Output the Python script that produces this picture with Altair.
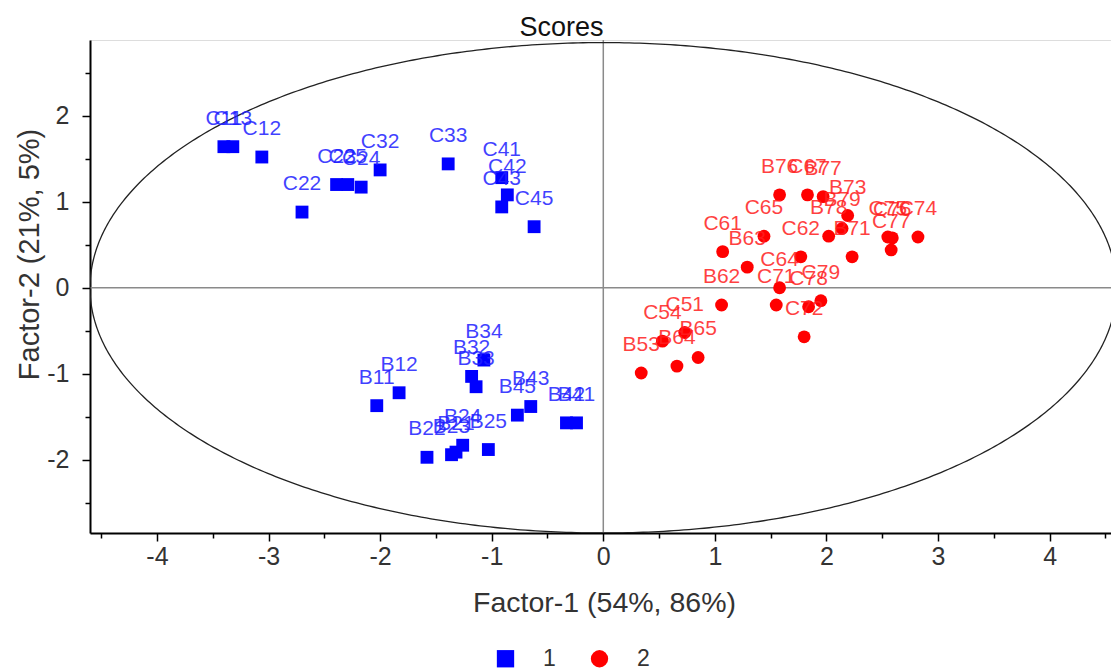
import altair as alt
import pandas as pd

# ---- data ----
labels_1 = ["C11", "C13", "C12", "C22", "C23", "C25", "C24", "C32", "C33", "C41", "C42", "C43", "C45",
            "B34", "B32", "B33", "B12", "B11", "B45", "B43", "B42", "B41", "B22", "B23", "B21", "B24", "B25"]
f1_1 = [-3.40, -3.32, -3.06, -2.70, -2.39, -2.29, -2.17, -2.00, -1.39, -0.91, -0.86, -0.91, -0.62,
        -1.07, -1.18, -1.14, -1.83, -2.03, -0.77, -0.65, -0.33, -0.24, -1.58, -1.36, -1.32, -1.26, -1.03]
f2_1 = [1.64, 1.64, 1.52, 0.88, 1.20, 1.20, 1.17, 1.37, 1.44, 1.28, 1.08, 0.94, 0.71,
        -0.84, -1.03, -1.15, -1.22, -1.37, -1.48, -1.38, -1.57, -1.57, -1.97, -1.94, -1.91, -1.83, -1.88]

labels_2 = ["B76", "C67", "B77", "B73", "B79", "B78", "C65", "C61", "B63", "C62", "B71", "C75", "C76",
            "C74", "C77", "C64", "C71", "C78", "C79", "C72", "B62", "C54", "C51", "B65", "B64", "B53"]
f1_2 = [1.58, 1.83, 1.97, 2.19, 2.14, 2.02, 1.44, 1.07, 1.29, 1.77, 2.23, 2.55, 2.59,
        2.82, 2.58, 1.58, 1.55, 1.84, 1.95, 1.80, 1.06, 0.53, 0.73, 0.85, 0.66, 0.34]
f2_2 = [1.08, 1.08, 1.06, 0.84, 0.69, 0.60, 0.60, 0.42, 0.24, 0.36, 0.36, 0.59, 0.58,
        0.59, 0.44, 0.00, -0.20, -0.22, -0.15, -0.57, -0.20, -0.62, -0.52, -0.81, -0.91, -0.99]

groups = ["1", "2"]
group_colors = ["#0000ff", "#ff0000"]
group_shapes = ["square", "circle"]

ellipse_a = 4.6   # semi-axis along Factor-1
ellipse_b = 2.85  # semi-axis along Factor-2

x_tick_values = [-4.5, -4, -3.5, -3, -2.5, -2, -1.5, -1, -0.5, 0, 0.5, 1, 1.5, 2, 2.5, 3, 3.5, 4, 4.5]
y_tick_values = [-2.5, -2, -1.5, -1, -0.5, 0, 0.5, 1, 1.5, 2, 2.5]

df = pd.DataFrame({
    "label": labels_1 + labels_2,
    "f1": f1_1 + f1_2,
    "f2": f2_1 + f2_2,
    "group": [groups[0]] * len(labels_1) + [groups[1]] * len(labels_2),
})

FONT = "Liberation Sans"
TXT = "#333333"

xscale = alt.Scale(domain=[-4.6, 4.55], nice=False, zero=False)
yscale = alt.Scale(domain=[-2.85, 2.88], nice=False, zero=False)

major = "abs(datum.value % 1) < 0.001"
tick_size = {"condition": {"test": major, "value": 8}, "value": 5}

x_axis = alt.Axis(
    values=x_tick_values, labelExpr=f"{major} ? '' + datum.value : ''",
    grid=False, domainColor="#000000", domainWidth=2, tickColor="#000000", tickWidth=1.5,
    tickSize=tick_size, labelFontSize=25, labelFont=FONT, labelColor=TXT, labelPadding=3,
    title="Factor-1 (54%, 86%)", titleFontSize=28.5, titleFont=FONT, titleFontWeight="normal",
    titleColor=TXT, titleX=514, titleY=69, titleBaseline="middle", titleAlign="center",
)
y_axis = alt.Axis(
    values=y_tick_values, labelExpr=f"{major} ? '' + datum.value : ''",
    grid=False, domainColor="#000000", domainWidth=2, tickColor="#000000", tickWidth=1.5,
    tickSize=tick_size, labelFontSize=25, labelFont=FONT, labelColor=TXT, labelPadding=13,
    title="Factor-2 (21%, 5%)", titleFontSize=29, titleFont=FONT, titleFontWeight="normal",
    titleColor=TXT, titleX=-61, titleY=214, titleAngle=-90, titleBaseline="middle", titleAlign="center",
)

zero = pd.DataFrame({"v": [0]})
vline = alt.Chart(zero).mark_rule(color="#8a8a8a", strokeWidth=1.5).encode(
    x=alt.X("v:Q", scale=xscale, axis=x_axis))
hline = alt.Chart(zero).mark_rule(color="#8a8a8a", strokeWidth=1.5).encode(
    y=alt.Y("v:Q", scale=yscale, axis=y_axis))

ellipse = alt.Chart(alt.sequence(0, 6.30, 0.01, as_="t")).transform_calculate(
    ex=f"{ellipse_a} * cos(datum.t)", ey=f"{ellipse_b} * sin(datum.t)"
).mark_line(color="#222222", strokeWidth=1.3, clip=True).encode(
    x=alt.X("ex:Q", scale=xscale, axis=x_axis),
    y=alt.Y("ey:Q", scale=yscale, axis=y_axis),
    order="t:Q",
)

points = alt.Chart(df).mark_point(filled=True, opacity=1, size=165).encode(
    x=alt.X("f1:Q", scale=xscale, axis=x_axis),
    y=alt.Y("f2:Q", scale=yscale, axis=y_axis),
    color=alt.Color("group:N", scale=alt.Scale(domain=groups, range=group_colors),
                    legend=alt.Legend(title=None, orient="none", direction="horizontal",
                                      legendX=404, legendY=607, labelFontSize=23, labelFont=FONT,
                                      labelColor=TXT, symbolSize=300, labelOffset=26,
                                      columnPadding=32, symbolStrokeWidth=0, padding=0)),
    shape=alt.Shape("group:N", scale=alt.Scale(domain=groups, range=group_shapes)),
)

texts = alt.Chart(df).mark_text(dy=-28, fontSize=21, font=FONT, opacity=0.85, baseline="middle").encode(
    x=alt.X("f1:Q", scale=xscale, axis=x_axis),
    y=alt.Y("f2:Q", scale=yscale, axis=y_axis),
    text="label:N",
    color=alt.condition("datum.group == '1'", alt.value("#1f1fff"), alt.value("#ff1f1f")),
)

chart = alt.layer(vline, hline, ellipse, points, texts).properties(
    width=1021, height=493,
    autosize=alt.AutoSizeParams(type="none"),
    padding={"left": 90, "top": 40, "right": 0, "bottom": 135},
    title=alt.TitleParams("Scores", fontSize=27, font=FONT, fontWeight="normal", color="#111111",
                          anchor="middle", dx=-39, dy=30, offset=6, baseline="alphabetic"),
).configure_view(stroke=None).configure(background="white")

chart.save("out.html", embed_options={"renderer": "svg", "actions": False})
